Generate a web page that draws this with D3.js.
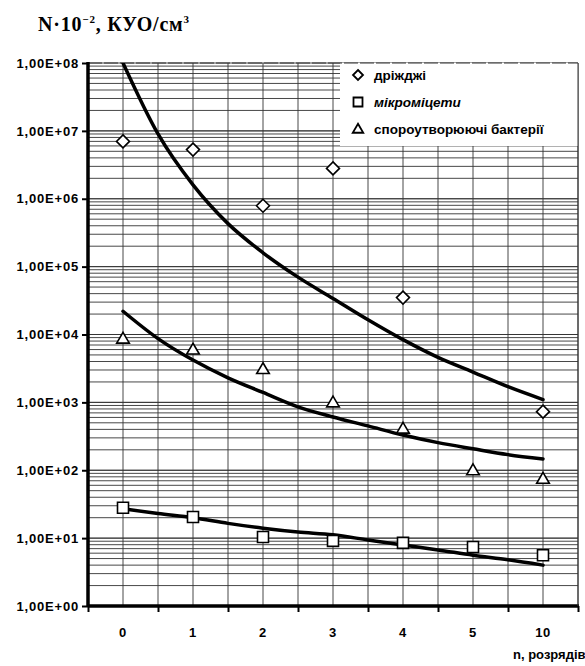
<!DOCTYPE html>
<html>
<head>
<meta charset="utf-8">
<script src="https://cdn.jsdelivr.net/npm/d3@7"></script>
<style>
  body { margin: 0; background: #fff; }
  svg { display: block; }
</style>
</head>
<body>
<div id="chart"></div>
<script>
// categories on the x axis (n, розрядів)
const categories = ["0", "1", "2", "3", "4", "5", "10"];

// measured points
const yeast = [7.0e6, 5.3e6, 7.9e5, 2.8e6, 3.5e4, null, 7.3e2];
const moulds = [28, 20.5, 10.4, 9.1, 8.5, 7.4, 5.6];
const spores = [8.7e3, 6.0e3, 3.1e3, 1.0e3, 4.1e2, 1.0e2, 7.5e1];

// trend lines, at every half category
const trendIdx = [0, 0.5, 1, 1.5, 2, 2.5, 3, 3.5, 4, 4.5, 5, 5.5, 6];
const yeastTrend = [1.0e8, 9.0e6, 1.6e6, 4.3e5, 1.6e5, 7.0e4, 3.4e4, 1.65e4, 8.4e3, 4.6e3, 2.8e3, 1.7e3, 1.1e3];
const sporesTrend = [2.2e4, 8.7e3, 4.2e3, 2.3e3, 1.4e3, 8.6e2, 6.1e2, 4.5e2, 3.3e2, 2.55e2, 2.07e2, 1.7e2, 1.47e2];
const mouldsTrend = [27, 23, 20, 16.5, 14, 12.3, 11.2, 9.4, 7.9, 6.7, 5.6, 4.8, 4.0];

const yTickValues = [1e0, 1e1, 1e2, 1e3, 1e4, 1e5, 1e6, 1e7, 1e8];
const yTickLabels = ["1,00E+00", "1,00E+01", "1,00E+02", "1,00E+03", "1,00E+04",
                     "1,00E+05", "1,00E+06", "1,00E+07", "1,00E+08"];

const legendItems = [
    { label: "дріжджі", shape: "diamond", italic: false },
    { label: "мікроміцети", shape: "square", italic: true },
    { label: "спороутворюючі бактерії", shape: "triangle", italic: false }
];

const width = 585, height = 666;
const margin = { top: 63, right: 7, bottom: 60, left: 88 };
const plotRight = width - margin.right;
const plotBottom = height - margin.bottom;
const labelFont = "'Liberation Sans', Arial, sans-serif";

const svg = d3.select("#chart").append("svg")
    .attr("width", width)
    .attr("height", height);

const x = d3.scaleBand()
    .domain(categories)
    .range([margin.left, plotRight]);

// same axis by category index, used for the trend lines and gridlines
const xIdx = d3.scaleLinear()
    .domain([-0.5, categories.length - 0.5])
    .range([margin.left, plotRight]);

const y = d3.scaleLog()
    .domain([1, 1e8])
    .range([plotBottom, margin.top]);

// horizontal gridlines: every log minor step
const minorTicks = [];
for (let e = 0; e < 8; e++) {
    for (let m = 1; m <= 10; m++) {
        minorTicks.push(m * Math.pow(10, e));
    }
}
svg.append("g")
    .selectAll("line")
    .data(minorTicks)
    .enter().append("line")
    .attr("x1", margin.left)
    .attr("x2", plotRight)
    .attr("y1", d => y(d))
    .attr("y2", d => y(d))
    .attr("stroke", "#333")
    .attr("stroke-width", 0.9);

// vertical gridlines: category centers and boundaries
const vGrid = d3.range(-0.5, categories.length, 0.5);
svg.append("g")
    .selectAll("line")
    .data(vGrid)
    .enter().append("line")
    .attr("x1", d => xIdx(d))
    .attr("x2", d => xIdx(d))
    .attr("y1", margin.top)
    .attr("y2", plotBottom)
    .attr("stroke", "#333")
    .attr("stroke-width", 0.9);

// white legend panel covering the grid
const legendX = 340, legendY = margin.top, legendW = plotRight - 340, legendH = 83;
svg.append("rect")
    .attr("x", legendX)
    .attr("y", legendY)
    .attr("width", legendW)
    .attr("height", legendH)
    .attr("fill", "#fff");

// top border
svg.append("line")
    .attr("x1", margin.left).attr("x2", plotRight)
    .attr("y1", margin.top).attr("y2", margin.top)
    .attr("stroke", "#333").attr("stroke-width", 1)
    .attr("stroke-dasharray", "14,2");

// clip for curves
svg.append("clipPath").attr("id", "plot-clip")
    .append("rect")
    .attr("x", margin.left).attr("y", margin.top)
    .attr("width", plotRight - margin.left)
    .attr("height", plotBottom - margin.top);

const trendLine = d3.line()
    .x((d, i) => xIdx(trendIdx[i]))
    .y(d => y(d))
    .curve(d3.curveMonotoneX);

[yeastTrend, sporesTrend, mouldsTrend].forEach(t => {
    svg.append("path")
        .attr("clip-path", "url(#plot-clip)")
        .attr("d", trendLine(t))
        .attr("fill", "none")
        .attr("stroke", "#000")
        .attr("stroke-width", 3.5)
        .attr("stroke-linecap", "round");
});

// marker shapes (diamond = square turned 45 degrees)
function shapePath(shape, s) {
    if (shape === "diamond") return `M0,${-s}L${s},0L0,${s}L${-s},0Z`;
    if (shape === "square") return `M${-s},${-s}H${s}V${s}H${-s}Z`;
    return `M0,${-s * 1.05}L${s * 1.05},${s * 0.75}H${-s * 1.05}Z`;
}

function drawPoints(values, shape, s) {
    svg.append("g")
        .selectAll("path")
        .data(values.map((v, i) => ({ v: v, c: categories[i] })).filter(d => d.v != null))
        .enter().append("path")
        .attr("d", shapePath(shape, s))
        .attr("transform", d => `translate(${x(d.c) + x.bandwidth() / 2},${y(d.v)})`)
        .attr("fill", "#fff")
        .attr("stroke", "#000")
        .attr("stroke-width", 1.6);
}
drawPoints(yeast, "diamond", 6.5);
drawPoints(moulds, "square", 5.5);
drawPoints(spores, "triangle", 6);

// axes
const yAxis = d3.axisLeft(y)
    .tickValues(yTickValues)
    .tickFormat((d, i) => yTickLabels[i])
    .tickSize(6)
    .tickPadding(3);
const gy = svg.append("g")
    .attr("transform", `translate(${margin.left},0)`)
    .call(yAxis);
gy.select(".domain").attr("stroke-width", 3.5).attr("d", `M0,${margin.top - 1}V${plotBottom + 1}`);
gy.selectAll(".tick line").attr("stroke-width", 2);
gy.selectAll(".tick text")
    .style("font-family", labelFont)
    .style("font-weight", "bold")
    .style("font-size", "13px")
    .style("letter-spacing", "0.8px")
    .attr("fill", "#000");

const xAxis = d3.axisBottom(xIdx)
    .tickValues(d3.range(-0.5, categories.length, 1))
    .tickFormat("")
    .tickSize(6);
const gx = svg.append("g")
    .attr("transform", `translate(0,${plotBottom})`)
    .call(xAxis);
gx.select(".domain").attr("stroke-width", 3.5).attr("d", `M${margin.left},0H${plotRight + 1}`);
gx.selectAll(".tick line").attr("stroke-width", 2);

svg.append("g")
    .selectAll("text")
    .data(categories)
    .enter().append("text")
    .attr("x", d => x(d) + x.bandwidth() / 2)
    .attr("y", plotBottom + 31)
    .attr("text-anchor", "middle")
    .style("font-family", labelFont)
    .style("font-weight", "bold")
    .style("font-size", "13px")
    .style("letter-spacing", "0.6px")
    .text(d => d);

// right border
svg.append("line")
    .attr("x1", plotRight).attr("x2", plotRight)
    .attr("y1", margin.top).attr("y2", plotBottom)
    .attr("stroke", "#333").attr("stroke-width", 1);

// x axis title
svg.append("text")
    .attr("x", 513)
    .attr("y", 659)
    .style("font-family", labelFont)
    .style("font-weight", "bold")
    .style("font-size", "13px")
    .text("n, розрядів");

// y axis title
const title = svg.append("text")
    .attr("x", 38)
    .attr("y", 31)
    .style("font-family", "'Liberation Serif', 'Times New Roman', serif")
    .style("font-weight", "bold")
    .style("font-size", "20px")
    .style("letter-spacing", "0.8px");
title.append("tspan").text("N·10");
title.append("tspan").attr("dy", -8).style("font-size", "11px").text("−2");
title.append("tspan").attr("dy", 8).text(", КУО/см");
title.append("tspan").attr("dy", -8).style("font-size", "11px").text("3");

// legend
const legend = svg.append("g");
legendItems.forEach((item, i) => {
    const ly = 75 + i * 27;
    legend.append("path")
        .attr("d", shapePath(item.shape, item.shape === "square" ? 4.5 : 5))
        .attr("transform", `translate(358,${ly})`)
        .attr("fill", "#fff")
        .attr("stroke", "#000")
        .attr("stroke-width", 1.8);
    legend.append("text")
        .attr("x", 374)
        .attr("y", ly + 5)
        .style("font-family", labelFont)
        .style("font-weight", "bold")
        .style("font-style", item.italic ? "italic" : "normal")
        .style("font-size", "13.5px")
        .text(item.label);
});
</script>
</body>
</html>
